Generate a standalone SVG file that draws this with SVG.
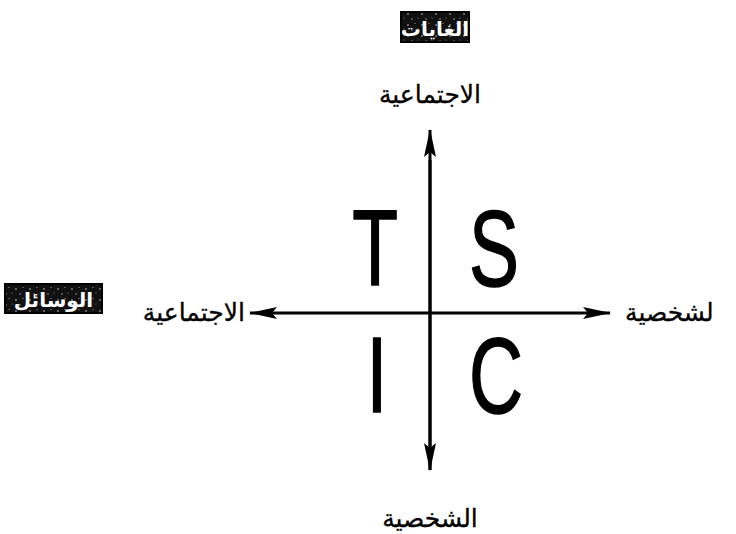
<svg xmlns="http://www.w3.org/2000/svg" width="736" height="534" viewBox="0 0 736 534">
<style>
.ar{font-family:"DejaVu Sans",sans-serif;font-size:25px;fill:#000;stroke:#000;stroke-width:0.3}
.lbl{font-family:"DejaVu Sans",sans-serif;font-size:20px;font-weight:bold;fill:#fff;text-anchor:middle}
.big{font-family:"Liberation Sans",Arial,sans-serif;font-size:107px;fill:#000;stroke:#000;stroke-width:1.5;text-anchor:middle}
.ax{stroke:#000;stroke-width:3;fill:none}
</style>
<defs>
<marker id="ah" viewBox="0 0 28 12" refX="27" refY="6" markerWidth="28" markerHeight="12" markerUnits="userSpaceOnUse" orient="auto">
<path d="M0,0 L28,6 L0,12 L5,6 Z" fill="#000"/>
</marker>
<pattern id="speck" width="14" height="11" patternUnits="userSpaceOnUse">
<rect width="14" height="11" fill="#111"/>
<circle cx="2" cy="3" r="0.8" fill="#ccc"/>
<circle cx="9" cy="1.5" r="0.6" fill="#aaa"/>
<circle cx="6" cy="8" r="0.7" fill="#bbb"/>
<circle cx="12" cy="7" r="0.5" fill="#999"/>
</pattern>
</defs>
<rect width="736" height="534" fill="#fff"/>
<g id="connectors">
<line class="ax" x1="430" y1="470" x2="430" y2="130" marker-end="url(#ah)"/>
<line class="ax" x1="430" y1="160" x2="430" y2="470" marker-end="url(#ah)"/>
<line class="ax" x1="430" y1="313" x2="250" y2="313" marker-end="url(#ah)"/>
<line class="ax" x1="430" y1="313" x2="610" y2="313" marker-end="url(#ah)"/>
</g>
<g id="ends-box">
<rect x="401" y="12" width="68" height="30" fill="url(#speck)" stroke="#000" stroke-width="2"/>
<text class="lbl" x="435" y="35.5">الغايات</text>
</g>
<g id="means-box">
<rect x="5" y="284" width="97" height="29" fill="url(#speck)" stroke="#000" stroke-width="2"/>
<text class="lbl" x="53.5" y="307">الوسائل</text>
</g>
<g id="top-label"><text class="ar" x="430" y="103" text-anchor="middle">الاجتماعية</text></g>
<g id="bottom-label"><text class="ar" x="430" y="527" text-anchor="middle">الشخصية</text></g>
<g id="left-label"><text class="ar" x="245" y="321" text-anchor="end">الاجتماعية</text></g>
<g id="right-label"><text class="ar" x="625" y="321" text-anchor="start">لشخصية</text></g>
<g id="T"><text class="big" transform="translate(375,285) scale(0.7,1)">T</text></g>
<g id="S"><text class="big" transform="translate(494,286) scale(0.7,1)">S</text></g>
<g id="I"><text class="big" transform="translate(377,412) scale(0.7,1)">I</text></g>
<g id="C"><text class="big" transform="translate(496,413) scale(0.7,1)">C</text></g>
</svg>
